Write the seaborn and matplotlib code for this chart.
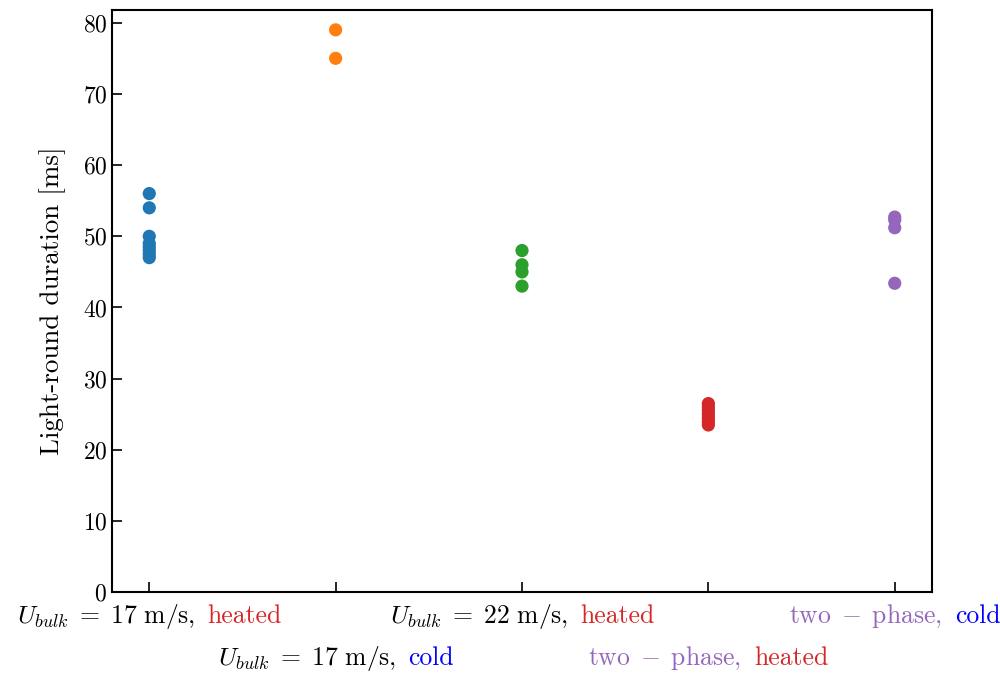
import numpy as np
import pandas as pd
import matplotlib
matplotlib.use("Agg")
import matplotlib.pyplot as plt
import seaborn as sns
from matplotlib.offsetbox import TextArea, HPacker, AnnotationBbox

sns.set_style("ticks", {"axes.edgecolor": "black", "text.color": "black",
                        "xtick.color": "black", "ytick.color": "black",
                        "axes.labelcolor": "black"})
plt.rcParams['font.family'] = ['serif']
plt.rcParams['font.serif'] = ['cmr10', 'DejaVu Serif']
plt.rcParams['mathtext.fontset'] = 'cm'
plt.rcParams['axes.formatter.use_mathtext'] = True
plt.rcParams['axes.unicode_minus'] = False

# Data
cond_17_heated = [56, 54, 50, 49, 48.5, 48, 47.5, 47]
cond_17_cold = [79, 75]
cond_22_heated = [48, 46, 45, 43]
cond_2p_heated = [26.5, 26, 25.5, 25, 24.5, 24, 23.5]
cond_2p_cold = [52.7, 52.3, 51.2, 43.4]

label_prefix = [r"$U_{bulk}\;=\;17\ \mathrm{m/s},$", r"$U_{bulk}\;=\;17\ \mathrm{m/s},$",
                r"$U_{bulk}\;=\;22\ \mathrm{m/s},$", r"$\mathrm{two}\;-\;\mathrm{phase},$",
                r"$\mathrm{two}\;-\;\mathrm{phase},$"]
label_suffix = ["heated", "cold", "heated", "heated", "cold"]
prefix_colors = ["black", "black", "black", "#9467bd", "#9467bd"]
suffix_colors = ["#d62728", "blue", "#d62728", "#d62728", "blue"]

groups = [cond_17_heated, cond_17_cold, cond_22_heated, cond_2p_heated, cond_2p_cold]
cats = [f"c{i}" for i in range(len(groups))]
df = pd.DataFrame({
    "cat": np.concatenate([[c] * len(g) for c, g in zip(cats, groups)]),
    "val": np.concatenate(groups),
})

fig, ax = plt.subplots(figsize=(10, 6.73), dpi=100)
sns.stripplot(data=df, x="cat", y="val", hue="cat", order=cats,
              palette=sns.color_palette("tab10", 5), jitter=False,
              size=9.5, linewidth=0, legend=False, ax=ax)
ax.set_xlim(-0.2, 4.2)
ax.set_ylim(0, None)
ax.set_xlabel("")
ax.set_ylabel("Light-round duration [ms]", fontsize=19.5, labelpad=12)
ax.tick_params(direction="in", length=7, width=1.2, labelsize=17)
ax.set_xticks(range(5))
ax.set_xticklabels([""] * 5)
for s in ax.spines.values():
    s.set_linewidth(1.5)

for i in range(5):
    p = TextArea(label_prefix[i], textprops=dict(color=prefix_colors[i], fontsize=18.5))
    q = TextArea(label_suffix[i], textprops=dict(color=suffix_colors[i], fontsize=18.5))
    box = HPacker(children=[p, q], align="baseline", pad=0, sep=9)
    yoff = -24 if i % 2 == 0 else -66
    ab = AnnotationBbox(box, (i, 0), xycoords=("data", "axes fraction"),
                        xybox=(0, yoff), boxcoords="offset pixels",
                        box_alignment=(0.5, 0.5), frameon=False,
                        annotation_clip=False)
    ax.add_artist(ab)

fig.subplots_adjust(left=0.112, right=0.932, top=0.985, bottom=0.12)
fig.savefig("out.png", dpi=100)
